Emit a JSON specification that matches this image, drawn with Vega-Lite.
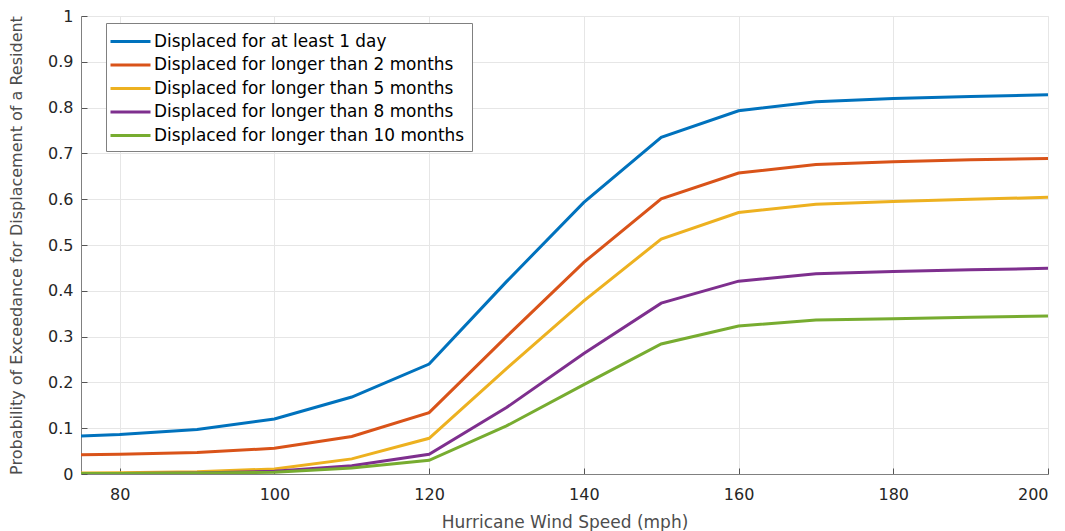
{
  "$schema": "https://vega.github.io/schema/vega-lite/v6.json",
  "width": 967,
  "height": 458,
  "autosize": "none",
  "padding": {"left": 81, "top": 16, "right": 17, "bottom": 57},
  "background": "white",
  "config": {
    "font": "DejaVu Sans",
    "view": {"stroke": "#e6e6e6", "strokeWidth": 1}
  },
  "data": {
    "values": [
      {"s": "Displaced for at least 1 day", "x": 75, "y": 0.083},
      {"s": "Displaced for at least 1 day", "x": 80, "y": 0.086},
      {"s": "Displaced for at least 1 day", "x": 90, "y": 0.097},
      {"s": "Displaced for at least 1 day", "x": 100, "y": 0.12},
      {"s": "Displaced for at least 1 day", "x": 110, "y": 0.168},
      {"s": "Displaced for at least 1 day", "x": 120, "y": 0.24},
      {"s": "Displaced for at least 1 day", "x": 130, "y": 0.42},
      {"s": "Displaced for at least 1 day", "x": 140, "y": 0.593},
      {"s": "Displaced for at least 1 day", "x": 150, "y": 0.735},
      {"s": "Displaced for at least 1 day", "x": 160, "y": 0.793},
      {"s": "Displaced for at least 1 day", "x": 170, "y": 0.813},
      {"s": "Displaced for at least 1 day", "x": 180, "y": 0.82},
      {"s": "Displaced for at least 1 day", "x": 190, "y": 0.824},
      {"s": "Displaced for at least 1 day", "x": 200, "y": 0.828},
      {"s": "Displaced for longer than 2 months", "x": 75, "y": 0.042},
      {"s": "Displaced for longer than 2 months", "x": 80, "y": 0.043},
      {"s": "Displaced for longer than 2 months", "x": 90, "y": 0.047},
      {"s": "Displaced for longer than 2 months", "x": 100, "y": 0.056},
      {"s": "Displaced for longer than 2 months", "x": 110, "y": 0.082},
      {"s": "Displaced for longer than 2 months", "x": 120, "y": 0.134},
      {"s": "Displaced for longer than 2 months", "x": 130, "y": 0.3},
      {"s": "Displaced for longer than 2 months", "x": 140, "y": 0.462},
      {"s": "Displaced for longer than 2 months", "x": 150, "y": 0.601},
      {"s": "Displaced for longer than 2 months", "x": 160, "y": 0.657},
      {"s": "Displaced for longer than 2 months", "x": 170, "y": 0.676},
      {"s": "Displaced for longer than 2 months", "x": 180, "y": 0.682},
      {"s": "Displaced for longer than 2 months", "x": 190, "y": 0.686},
      {"s": "Displaced for longer than 2 months", "x": 200, "y": 0.689},
      {"s": "Displaced for longer than 5 months", "x": 75, "y": 0.002},
      {"s": "Displaced for longer than 5 months", "x": 80, "y": 0.003},
      {"s": "Displaced for longer than 5 months", "x": 90, "y": 0.005},
      {"s": "Displaced for longer than 5 months", "x": 100, "y": 0.011},
      {"s": "Displaced for longer than 5 months", "x": 110, "y": 0.033},
      {"s": "Displaced for longer than 5 months", "x": 120, "y": 0.078},
      {"s": "Displaced for longer than 5 months", "x": 130, "y": 0.23},
      {"s": "Displaced for longer than 5 months", "x": 140, "y": 0.378},
      {"s": "Displaced for longer than 5 months", "x": 150, "y": 0.513},
      {"s": "Displaced for longer than 5 months", "x": 160, "y": 0.571},
      {"s": "Displaced for longer than 5 months", "x": 170, "y": 0.589},
      {"s": "Displaced for longer than 5 months", "x": 180, "y": 0.595},
      {"s": "Displaced for longer than 5 months", "x": 190, "y": 0.6},
      {"s": "Displaced for longer than 5 months", "x": 200, "y": 0.604},
      {"s": "Displaced for longer than 8 months", "x": 75, "y": 0.001},
      {"s": "Displaced for longer than 8 months", "x": 80, "y": 0.001},
      {"s": "Displaced for longer than 8 months", "x": 90, "y": 0.002},
      {"s": "Displaced for longer than 8 months", "x": 100, "y": 0.006},
      {"s": "Displaced for longer than 8 months", "x": 110, "y": 0.018},
      {"s": "Displaced for longer than 8 months", "x": 120, "y": 0.043},
      {"s": "Displaced for longer than 8 months", "x": 130, "y": 0.145},
      {"s": "Displaced for longer than 8 months", "x": 140, "y": 0.263},
      {"s": "Displaced for longer than 8 months", "x": 150, "y": 0.373},
      {"s": "Displaced for longer than 8 months", "x": 160, "y": 0.421},
      {"s": "Displaced for longer than 8 months", "x": 170, "y": 0.437},
      {"s": "Displaced for longer than 8 months", "x": 180, "y": 0.442},
      {"s": "Displaced for longer than 8 months", "x": 190, "y": 0.446},
      {"s": "Displaced for longer than 8 months", "x": 200, "y": 0.449},
      {"s": "Displaced for longer than 10 months", "x": 75, "y": 0.001},
      {"s": "Displaced for longer than 10 months", "x": 80, "y": 0.001},
      {"s": "Displaced for longer than 10 months", "x": 90, "y": 0.002},
      {"s": "Displaced for longer than 10 months", "x": 100, "y": 0.004},
      {"s": "Displaced for longer than 10 months", "x": 110, "y": 0.013},
      {"s": "Displaced for longer than 10 months", "x": 120, "y": 0.03},
      {"s": "Displaced for longer than 10 months", "x": 130, "y": 0.105},
      {"s": "Displaced for longer than 10 months", "x": 140, "y": 0.195},
      {"s": "Displaced for longer than 10 months", "x": 150, "y": 0.284},
      {"s": "Displaced for longer than 10 months", "x": 160, "y": 0.323},
      {"s": "Displaced for longer than 10 months", "x": 170, "y": 0.336},
      {"s": "Displaced for longer than 10 months", "x": 180, "y": 0.339},
      {"s": "Displaced for longer than 10 months", "x": 190, "y": 0.342},
      {"s": "Displaced for longer than 10 months", "x": 200, "y": 0.345}
    ]
  },
  "mark": {"type": "line", "strokeWidth": 3, "clip": true},
  "encoding": {
    "x": {
      "field": "x",
      "type": "quantitative",
      "scale": {"domain": [75, 200], "nice": false, "zero": false},
      "axis": {
        "title": "Hurricane Wind Speed (mph)",
        "titleFontSize": 17,
        "titleFontWeight": "normal",
        "titleColor": "#4d4d4d",
        "titlePadding": 12,
        "values": [80, 100, 120, 140, 160, 180, 200],
        "labelFontSize": 16,
        "labelColor": "#262626",
        "labelPadding": 18,
        "tickSize": -6,
        "tickColor": "#555555",
        "domainColor": "#808080",
        "gridColor": "#e6e6e6",
        "grid": true
      }
    },
    "y": {
      "field": "y",
      "type": "quantitative",
      "scale": {"domain": [0, 1], "nice": false},
      "axis": {
        "title": "Probability of Exceedance for Displacement of a Resident",
        "titleFontSize": 16,
        "titleFontWeight": "normal",
        "titleColor": "#4d4d4d",
        "titlePadding": 23,
        "values": [0, 0.1, 0.2, 0.3, 0.4, 0.5, 0.6, 0.7, 0.8, 0.9, 1],
        "format": ".1~f",
        "labelFontSize": 16,
        "labelColor": "#262626",
        "labelPadding": 14,
        "tickSize": -6,
        "tickColor": "#555555",
        "domainColor": "#808080",
        "gridColor": "#e6e6e6",
        "grid": true
      }
    },
    "color": {
      "field": "s",
      "type": "nominal",
      "sort": [
        "Displaced for at least 1 day",
        "Displaced for longer than 2 months",
        "Displaced for longer than 5 months",
        "Displaced for longer than 8 months",
        "Displaced for longer than 10 months"
      ],
      "scale": {
        "domain": [
          "Displaced for at least 1 day",
          "Displaced for longer than 2 months",
          "Displaced for longer than 5 months",
          "Displaced for longer than 8 months",
          "Displaced for longer than 10 months"
        ],
        "range": ["#0072BD", "#D95319", "#EDB120", "#7E2F8E", "#77AC30"]
      },
      "legend": {
        "title": null,
        "orient": "none",
        "legendX": 25,
        "legendY": 7,
        "symbolType": "M-2,0L2,0",
        "symbolSize": 400,
        "symbolStrokeWidth": 3,
        "symbolOffset": 6,
        "labelFontSize": 16.9,
        "labelColor": "#000000",
        "labelOffset": 12,
        "labelLimit": 400,
        "rowPadding": 3.5,
        "padding": 7,
        "offset": 0,
        "fillColor": "white",
        "strokeColor": "#808080",
        "cornerRadius": 0
      }
    }
  }
}
